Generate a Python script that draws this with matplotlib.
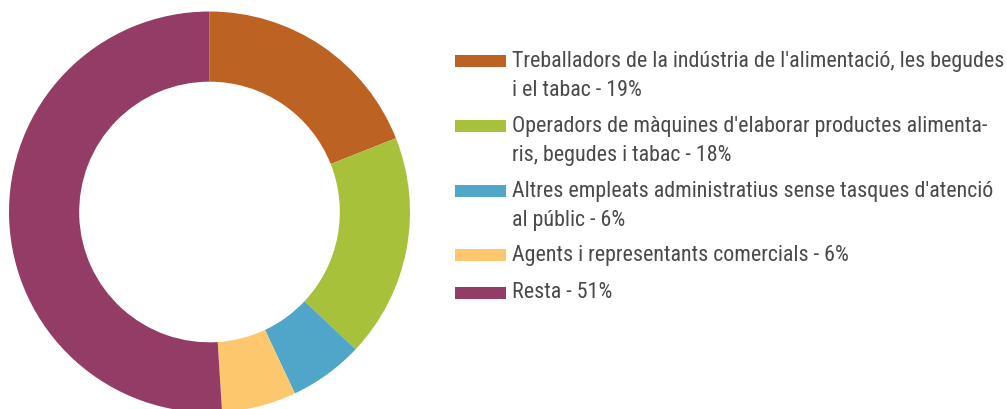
import matplotlib
matplotlib.use("Agg")
import matplotlib.pyplot as plt
from matplotlib.patches import Rectangle
from matplotlib import font_manager

categories = [
    "Treballadors de la indústria de l'alimentació, les begudes\ni el tabac - 19%",
    "Operadors de màquines d'elaborar productes alimenta-\nris, begudes i tabac - 18%",
    "Altres empleats administratius sense tasques d'atenció\nal públic - 6%",
    "Agents i representants comercials - 6%",
    "Resta - 51%",
]
values = [19, 18, 6, 6, 51]
colors = ["#BC6323", "#A8C13A", "#50A6C8", "#FDC76D", "#933D66"]

W, H = 1007, 409
fig = plt.figure(figsize=(W / 100, H / 100), dpi=100)

names = {f.name for f in font_manager.fontManager.ttflist}
family = "Lato"
for cand in ["Roboto Condensed", "Liberation Sans Narrow", "Lato"]:
    if cand in names:
        family = cand
        break

# donut
cx, cy, r = 209.5, 212, 200.5
ax = fig.add_axes([(cx - r) / W, (H - cy - r) / H, 2 * r / W, 2 * r / H])
ax.pie(values, colors=colors, startangle=90, counterclock=False,
       radius=1, wedgeprops=dict(width=0.35, linewidth=0))
ax.set_xlim(-1, 1)
ax.set_ylim(-1, 1)
ax.set_aspect("equal")
ax.axis("off")

# fit font size so the longest first line spans ~491 px
renderer = fig.canvas.get_renderer()
probe = fig.text(0, 0, categories[0].split("\n")[0], family=family, fontsize=10)
w10 = probe.get_window_extent(renderer).width
probe.remove()
fs = min(16, 10 * 489 / w10)

# legend
baselines = [66.7, 131.7, 196.7, 260.7, 298.5]
line_gap = 29.5
for lab, col, b in zip(categories, colors, baselines):
    fig.patches.append(Rectangle((455 / W, (H - b) / H), 51 / W, 12 / H,
                                 transform=fig.transFigure, color=col, linewidth=0))
    for i, line in enumerate(lab.split("\n")):
        fig.text(512 / W, (H - b - i * line_gap) / H, line, family=family,
                 fontsize=fs, color="#4a4a4a", va="baseline", ha="left")

fig.savefig("out.png", dpi=100, facecolor="white")
